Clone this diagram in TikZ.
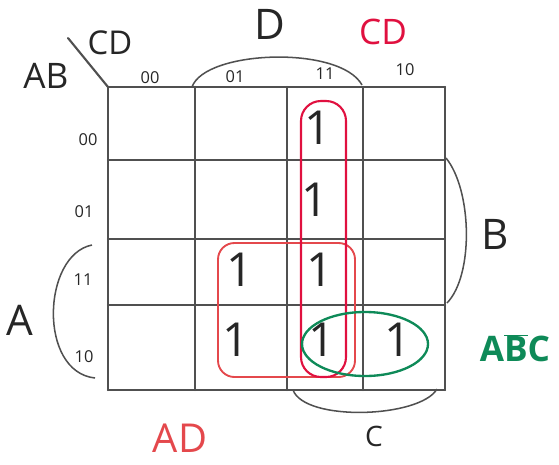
\documentclass[tikz,border=0pt]{standalone}
\usepackage{fontspec}
\setmainfont{Open Sans}
\usetikzlibrary{positioning,calc}
\definecolor{pencil}{HTML}{505050}
\definecolor{ink}{HTML}{262626}
\definecolor{crimson}{HTML}{E0103F}
\definecolor{salmon}{HTML}{E4484C}
\definecolor{mint}{HTML}{0E8A58}

\begin{document}
\begin{tikzpicture}[x=0.03cm,y=-0.03cm,
  grid/.style={draw=pencil,line width=2pt,line cap=round},
  bracket/.style={draw=pencil,line width=1.3pt},
  one/.style={font=\fontsize{40}{40}\selectfont,text=ink,inner sep=0pt},
  code/.style={font=\fontsize{14}{14}\selectfont,text=ink,inner sep=0pt},
  var/.style={font=\fontsize{36}{36}\selectfont,text=ink,inner sep=0pt},
  term/.style={font=\fontsize{30}{30}\selectfont,inner sep=0pt},
  loopCD/.style={draw=crimson,line width=1.8pt,rounded corners=17pt},
  loopAD/.style={draw=salmon,line width=1.6pt,rounded corners=14pt},
  loopABC/.style={draw=mint,line width=2pt}
]
\useasboundingbox (0,0) rectangle (559,464);

% map grid
\foreach \x in {108,195,287,363,445}
  \draw[grid] (\x,87) -- (\x,390);
\foreach \y in {87,160,239,305,390}
  \draw[grid] (108,\y) -- (445,\y);
\coordinate (corner) at (108,87);
\coordinate (slash) at (68,38);
\draw[grid,line width=1.8pt] (corner) -- (slash);

% heading
\node[var,font=\fontsize{30}{30}\selectfont] (rowvar) at (46,76) {AB};
\node[var,font=\fontsize{28}{28}\selectfont] (colvar) at (110,43) {CD};
\node[code] (c00) at (150,78) {00};
\node[code] (c01) at (235,77) {01};
\node[code] (c11) at (325,74) {11};
\node[code] (c10) at (405,70) {10};
\node[code] (r00) at (88,140) {00};
\node[code] (r01) at (84,212) {01};
\node[code] (r11) at (83,280) {11};
\node[code] (r10) at (84,357) {10};

% the ones
\node[one] (m0011) at (318,128) {1};
\node[one] (m0111) at (315,200) {1};
\node[one] (m1101) at (240,270) {1};
\node[one] (m1111) at (320,270) {1};
\node[one] (m1001) at (236,340) {1};
\node[one] (m1011) at (322,340) {1};
\node[one] (m1010) at (398,340) {1};

% variable brackets
\draw[bracket] (192,87) .. controls (205,50) and (340,45) .. (362,85);
\node[var] (D) at (270,24) {D};
\draw[bracket] (92,245) .. controls (42,255) and (38,372) .. (95,378);
\node[var] (A) at (20,320) {A};
\draw[bracket] (446,158) .. controls (472,190) and (474,275) .. (447,303);
\node[var] (B) at (495,234) {B};
\draw[bracket] (293,390) .. controls (305,422) and (420,418) .. (437,389);
\node[var,font=\fontsize{24}{24}\selectfont] (C) at (374,436) {C};

% groups
\draw[loopAD] (218,243) rectangle (355,377);
\draw[loopCD] (301,101) rectangle (346,377);
\draw[loopABC] (365,344) ellipse [x radius=63, y radius=32];
\node[term,text=crimson] (tCD) at (383,32) {CD};
\node[term,text=salmon,font=\fontsize{34}{34}\selectfont] (tAD) at (180,438) {AD};
\node[term,text=mint,font=\fontsize{30}{30}\selectfont\bfseries] (tABC) at (515,348) {A$\overline{\mbox{B}}$C};
\end{tikzpicture}
\end{document}
